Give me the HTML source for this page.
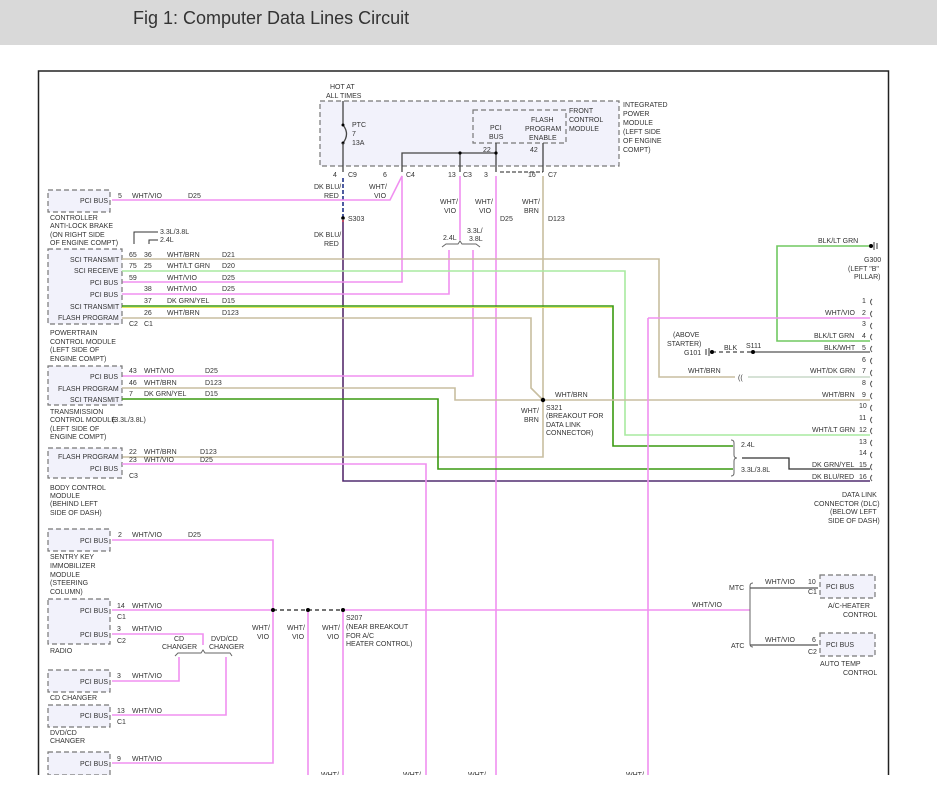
<!DOCTYPE html>
<html><head><meta charset="utf-8"><style>
body{margin:0;background:#fff;width:937px;height:793px;overflow:hidden}
svg{display:block}
text{font-family:"Liberation Sans",sans-serif;font-size:7px;fill:#333}
.p{stroke:#f090f0;stroke-width:1.6;fill:none}
.t{stroke:#c8bea0;stroke-width:1.6;fill:none}
.lg{stroke:#a8eaa0;stroke-width:1.6;fill:none}
.g{stroke:#3a9a10;stroke-width:1.6;fill:none}
.y{stroke:#e8e860;stroke-width:1;fill:none}
.k{stroke:#444;stroke-width:1.3;fill:none}
.box{fill:#f2f2fb;stroke:#777;stroke-width:1.2;stroke-dasharray:5 3}
</style></head><body>
<svg width="937" height="793" viewBox="0 0 937 793">
<rect x="0" y="0" width="937" height="45" fill="#d9d9d9"/>
<text x="133" y="24" style="font-size:18px;fill:#333">Fig 1: Computer Data Lines Circuit</text>
<rect x="38.5" y="71" width="850" height="740" fill="none" stroke="#222" stroke-width="1.5"/>

<rect class="box" x="320" y="101" width="299" height="65"/>
<rect class="box" x="473" y="110" width="93" height="33" fill="#eaeaf8"/>
<text x="330" y="89">HOT AT</text><text x="326" y="98">ALL TIMES</text>
<line x1="343" y1="101" x2="343" y2="125" class="k"/>
<path d="M343 125 Q350 134 343 143" class="k"/><circle cx="343" cy="125" r="1.5"/><circle cx="343" cy="143" r="1.5"/>
<line x1="343" y1="143" x2="343" y2="172" class="k"/>
<text x="352" y="127">PTC</text><text x="352" y="136">7</text><text x="352" y="145">13A</text>
<text x="490" y="130">PCI</text><text x="489" y="139">BUS</text>
<text x="531" y="122">FLASH</text><text x="525" y="131">PROGRAM</text><text x="529" y="140">ENABLE</text>
<text x="569" y="113">FRONT</text><text x="569" y="122">CONTROL</text><text x="569" y="131">MODULE</text>
<text x="623" y="107">INTEGRATED</text><text x="623" y="116">POWER</text><text x="623" y="125">MODULE</text><text x="623" y="134">(LEFT SIDE</text><text x="623" y="143">OF ENGINE</text><text x="623" y="152">COMPT)</text>
<path d="M402 172 V153 H496 V143 M460 153 V172 M496 153 V172 M543 143 V172" class="k"/>
<circle cx="460" cy="153" r="1.6"/><circle cx="496" cy="153" r="1.6"/>
<text x="483" y="152">22</text><text x="530" y="152">42</text>
<text x="333" y="177">4</text><text x="348" y="177">C9</text><text x="383" y="177">6</text><text x="406" y="177">C4</text>
<text x="448" y="177">13</text><text x="463" y="177">C3</text><text x="484" y="177">3</text><text x="528" y="177">16</text><text x="548" y="177">C7</text>
<path d="M500 172 H543" stroke="#222" stroke-dasharray="4 2" fill="none"/>

<path d="M343 178 V220" stroke="#223388" stroke-width="1.6" stroke-dasharray="4 2" fill="none"/>
<circle cx="343" cy="218" r="1.8"/><text x="348" y="221">S303</text>
<path d="M343 220 V481 H870" stroke="#b02040" stroke-width="1.6" fill="none"/>
<path d="M343 222 V481 H870" stroke="#223388" stroke-width="1" fill="none"/>
<text x="314" y="189">DK BLU/</text><text x="324" y="198">RED</text>
<text x="314" y="237">DK BLU/</text><text x="324" y="246">RED</text>
<text x="369" y="189">WHT/</text><text x="374" y="198">VIO</text>
<path d="M112 200 H390 L402 176 V282 H112" class="p"/>
<text x="118" y="198">5</text><text x="132" y="198">WHT/VIO</text><text x="188" y="198">D25</text>
<path d="M460 176 V240" class="p"/>
<text x="440" y="204">WHT/</text><text x="444" y="213">VIO</text>
<text x="475" y="204">WHT/</text><text x="479" y="213">VIO</text><text x="500" y="221">D25</text>
<text x="522" y="204">WHT/</text><text x="524" y="213">BRN</text><text x="548" y="221">D123</text>
<path d="M496 176 V793" class="p"/>
<path d="M543 176 V457 H112" class="t"/>
<path d="M442 247 L446 244 H458 L460 241 L462 244 H476 L480 247" stroke="#666" fill="none"/>
<text x="443" y="240">2.4L</text><text x="467" y="233">3.3L/</text><text x="469" y="241">3.8L</text>
<path d="M449 250 V294 H112" class="p"/>
<path d="M473 250 V376 H112" class="p"/>

<rect class="box" x="48" y="190" width="62" height="22"/><text x="80" y="203">PCI BUS</text>
<text x="50" y="220">CONTROLLER</text><text x="50" y="228">ANTI-LOCK BRAKE</text><text x="50" y="237">(ON RIGHT SIDE</text><text x="50" y="245">OF ENGINE COMPT)</text>
<path d="M134 244 V232 H158 M149 244 V240 H158" stroke="#333" fill="none"/>
<text x="160" y="234">3.3L/3.8L</text><text x="160" y="242">2.4L</text>
<rect class="box" x="48" y="249" width="74" height="75"/>
<text x="70" y="262">SCI TRANSMIT</text><text x="74" y="273">SCI RECEIVE</text><text x="90" y="285">PCI BUS</text><text x="90" y="297">PCI BUS</text><text x="70" y="309">SCI TRANSMIT</text><text x="58" y="320">FLASH PROGRAM</text>
<text x="129" y="257">65</text><text x="144" y="257">36</text><text x="167" y="257">WHT/BRN</text><text x="222" y="257">D21</text>
<text x="129" y="268">75</text><text x="144" y="268">25</text><text x="167" y="268">WHT/LT GRN</text><text x="222" y="268">D20</text>
<text x="129" y="280">59</text><text x="167" y="280">WHT/VIO</text><text x="222" y="280">D25</text>
<text x="144" y="291">38</text><text x="167" y="291">WHT/VIO</text><text x="222" y="291">D25</text>
<text x="144" y="303">37</text><text x="167" y="303">DK GRN/YEL</text><text x="222" y="303">D15</text>
<text x="144" y="315">26</text><text x="167" y="315">WHT/BRN</text><text x="222" y="315">D123</text>
<text x="129" y="326">C2</text><text x="144" y="326">C1</text>
<text x="50" y="335">POWERTRAIN</text><text x="50" y="344">CONTROL MODULE</text><text x="50" y="352">(LEFT SIDE OF</text><text x="50" y="361">ENGINE COMPT)</text>
<path d="M122 259 H659 V377 H735" class="t"/>
<text x="738" y="380">((</text>
<path d="M748 377 H870" stroke="#c8d8c8" stroke-width="1.6" fill="none"/>
<path d="M122 271 H625 V435 H870" class="lg"/>
<path d="M122 306 H613 V446 H733" class="g"/><path d="M122 307.5 H612" class="y"/>
<path d="M122 318 H531 V388 L543 400" class="t"/>
<rect class="box" x="48" y="366" width="74" height="39"/>
<text x="90" y="379">PCI BUS</text><text x="58" y="391">FLASH PROGRAM</text><text x="70" y="402">SCI TRANSMIT</text>
<text x="129" y="373">43</text><text x="144" y="373">WHT/VIO</text><text x="205" y="373">D25</text>
<text x="129" y="385">46</text><text x="144" y="385">WHT/BRN</text><text x="205" y="385">D123</text>
<text x="129" y="396">7</text><text x="144" y="396">DK GRN/YEL</text><text x="205" y="396">D15</text>
<text x="50" y="414">TRANSMISSION</text><text x="50" y="422">CONTROL MODULE</text><text x="50" y="431">(LEFT SIDE OF</text><text x="50" y="439">ENGINE COMPT)</text>
<text x="112" y="422">(3.3L/3.8L)</text>
<path d="M122 388 H455 V400 H870" class="t"/>
<path d="M122 399 H438 V469 H733" class="g"/>
<circle cx="543" cy="400" r="2.2"/>
<text x="555" y="397">WHT/BRN</text><text x="521" y="413">WHT/</text><text x="524" y="422">BRN</text>
<text x="546" y="410">S321</text><text x="546" y="418">(BREAKOUT FOR</text><text x="546" y="427">DATA LINK</text><text x="546" y="435">CONNECTOR)</text>
<rect class="box" x="48" y="448" width="74" height="30"/>
<text x="58" y="459">FLASH PROGRAM</text><text x="90" y="471">PCI BUS</text>
<text x="129" y="454">22</text><text x="144" y="454">WHT/BRN</text><text x="200" y="454">D123</text>
<text x="129" y="462">23</text><text x="144" y="462">WHT/VIO</text><text x="200" y="462">D25</text><text x="129" y="478">C3</text>
<text x="50" y="490">BODY CONTROL</text><text x="50" y="498">MODULE</text><text x="50" y="506">(BEHIND LEFT</text><text x="50" y="515">SIDE OF DASH)</text>
<path d="M122 464 H426 V793" class="p"/>

<path d="M870 246 H777 V341 H870" class="lg" style="stroke:#70c860"/>
<text x="818" y="243">BLK/LT GRN</text>
<circle cx="871" cy="246" r="2"/><path d="M874 242 V250 M877 243 V249" stroke="#333"/>
<text x="864" y="262">G300</text><text x="848" y="271">(LEFT "B"</text><text x="854" y="279">PILLAR)</text>
<path d="M648 318 H870" class="p"/><path d="M648 318 V793" class="p"/>
<g>
<text x="862" y="303">1</text><text x="862" y="315">2</text><text x="862" y="326">3</text><text x="862" y="338">4</text><text x="862" y="350">5</text><text x="862" y="362">6</text><text x="862" y="373">7</text><text x="862" y="385">8</text><text x="862" y="397">9</text><text x="859" y="408">10</text><text x="859" y="420">11</text><text x="859" y="432">12</text><text x="859" y="444">13</text><text x="859" y="455">14</text><text x="859" y="467">15</text><text x="859" y="479">16</text>
</g>
<path d="M872 299 q-3 3 0 6 M872 311 q-3 3 0 6 M872 323 q-3 3 0 6 M872 334 q-3 3 0 6 M872 346 q-3 3 0 6 M872 358 q-3 3 0 6 M872 370 q-3 3 0 6 M872 381 q-3 3 0 6 M872 393 q-3 3 0 6 M872 405 q-3 3 0 6 M872 417 q-3 3 0 6 M872 428 q-3 3 0 6 M872 440 q-3 3 0 6 M872 452 q-3 3 0 6 M872 464 q-3 3 0 6 M872 475 q-3 3 0 6" stroke="#555" fill="none"/>
<text x="825" y="315">WHT/VIO</text><text x="814" y="338">BLK/LT GRN</text><text x="824" y="350">BLK/WHT</text>
<text x="810" y="373">WHT/DK GRN</text><text x="822" y="397">WHT/BRN</text><text x="812" y="432">WHT/LT GRN</text>
<text x="812" y="467">DK GRN/YEL</text><text x="812" y="479">DK BLU/RED</text>
<text x="688" y="373">WHT/BRN</text>
<path d="M753 352 H870" stroke="#555" stroke-width="1.2"/>
<path d="M712 352 H753" stroke="#444" stroke-width="1.2" stroke-dasharray="4 3"/>
<circle cx="712" cy="352" r="2"/><circle cx="753" cy="352" r="2"/><path d="M709 348 V356 M706 349 V355" stroke="#333"/>
<text x="724" y="350">BLK</text><text x="746" y="348">S111</text>
<text x="673" y="337">(ABOVE</text><text x="667" y="346">STARTER)</text><text x="684" y="355">G101</text>
<path d="M731 440 q3 0 3 3 V455 q0 3 3 3 q-3 0 -3 3 V473 q0 3 -3 3" stroke="#666" fill="none"/>
<text x="741" y="447">2.4L</text><text x="741" y="472">3.3L/3.8L</text>
<path d="M742 458 H789 V469 H870" stroke="#333" stroke-width="1.3" fill="none"/>
<text x="842" y="497">DATA LINK</text><text x="814" y="506">CONNECTOR (DLC)</text><text x="830" y="514">(BELOW LEFT</text><text x="828" y="523">SIDE OF DASH)</text>

<rect class="box" x="48" y="529" width="62" height="22"/><text x="80" y="543">PCI BUS</text>
<text x="118" y="537">2</text><text x="132" y="537">WHT/VIO</text><text x="188" y="537">D25</text>
<path d="M112 540 H273 V763 H112" class="p"/>
<text x="50" y="559">SENTRY KEY</text><text x="50" y="568">IMMOBILIZER</text><text x="50" y="577">MODULE</text><text x="50" y="585">(STEERING</text><text x="50" y="594">COLUMN)</text>
<rect class="box" x="48" y="599" width="62" height="45"/><text x="80" y="613">PCI BUS</text><text x="80" y="637">PCI BUS</text>
<text x="117" y="608">14</text><text x="132" y="608">WHT/VIO</text><text x="117" y="619">C1</text>
<text x="117" y="631">3</text><text x="132" y="631">WHT/VIO</text><text x="117" y="643">C2</text>
<text x="50" y="653">RADIO</text>
<path d="M112 610 H273" class="p"/><path d="M343 610 H750" class="p"/>
<path d="M273 610 H343" stroke="#222" stroke-width="1.3" stroke-dasharray="4 3"/>
<circle cx="273" cy="610" r="2"/><circle cx="308" cy="610" r="2"/><circle cx="343" cy="610" r="2"/>
<path d="M308 612 V793 M343 612 V793" class="p"/>
<text x="252" y="630">WHT/</text><text x="257" y="639">VIO</text><text x="287" y="630">WHT/</text><text x="292" y="639">VIO</text><text x="322" y="630">WHT/</text><text x="327" y="639">VIO</text>
<text x="346" y="620">S207</text><text x="346" y="629">(NEAR BREAKOUT</text><text x="346" y="638">FOR A/C</text><text x="346" y="646">HEATER CONTROL)</text>
<path d="M112 634 H203 V645" class="p"/>
<text x="174" y="641">CD</text><text x="162" y="649">CHANGER</text><text x="211" y="641">DVD/CD</text><text x="209" y="649">CHANGER</text>
<path d="M175 656 L178 653 H201 L203 650 L205 653 H230 L232 656" stroke="#666" fill="none"/>
<path d="M179 657 V681 H112" class="p"/><path d="M226 657 V715 H112" class="p"/>
<rect class="box" x="48" y="670" width="62" height="22"/><text x="80" y="684">PCI BUS</text>
<text x="117" y="678">3</text><text x="132" y="678">WHT/VIO</text><text x="50" y="700">CD CHANGER</text>
<rect class="box" x="48" y="705" width="62" height="22"/><text x="80" y="718">PCI BUS</text>
<text x="117" y="713">13</text><text x="132" y="713">WHT/VIO</text><text x="117" y="724">C1</text>
<text x="50" y="735">DVD/CD</text><text x="50" y="743">CHANGER</text>
<rect class="box" x="48" y="752" width="62" height="23"/><text x="80" y="766">PCI BUS</text>
<text x="117" y="761">9</text><text x="132" y="761">WHT/VIO</text>
<text x="321" y="777">WHT/</text><text x="403" y="777">WHT/</text><text x="468" y="777">WHT/</text><text x="626" y="777">WHT/</text>
<rect x="0" y="775" width="937" height="18" fill="#fff"/>
<text x="692" y="607">WHT/VIO</text>
<path d="M753 583 q-3 0 -3 3 V644 q0 3 3 3" stroke="#666" fill="none"/>
<path d="M750 588 H818 M750 645 H818" class="k" style="stroke:#555"/>
<text x="729" y="590">MTC</text><text x="731" y="648">ATC</text>
<text x="765" y="584">WHT/VIO</text><text x="765" y="642">WHT/VIO</text>
<text x="808" y="584">10</text><text x="808" y="594">C1</text><text x="812" y="642">6</text><text x="808" y="654">C2</text>
<rect class="box" x="820" y="575" width="55" height="23"/><text x="826" y="589">PCI BUS</text>
<rect class="box" x="820" y="633" width="55" height="23"/><text x="826" y="647">PCI BUS</text>
<text x="828" y="608">A/C-HEATER</text><text x="843" y="617">CONTROL</text>
<text x="820" y="666">AUTO TEMP</text><text x="843" y="675">CONTROL</text>
</svg>
</body></html>
